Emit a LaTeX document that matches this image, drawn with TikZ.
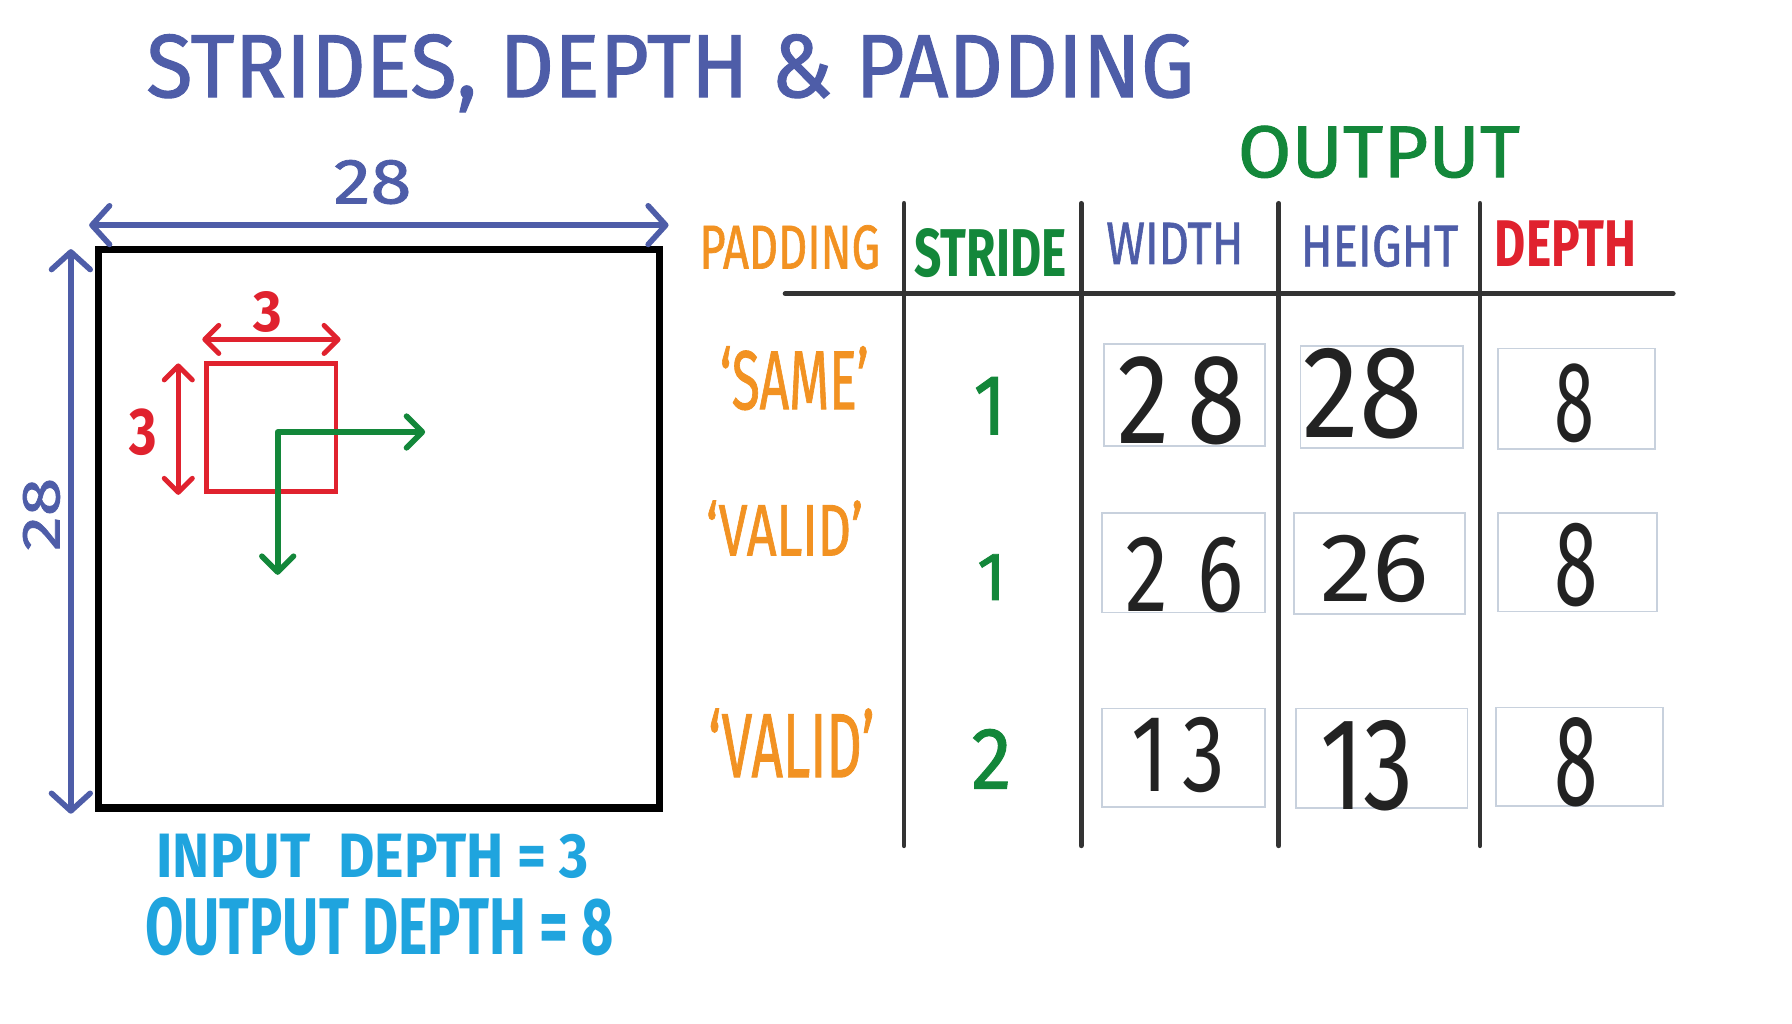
\documentclass[tikz,border=0pt]{standalone}
\usepackage{fontspec}
\setmainfont{Fira Sans}
\newfontfamily\medfont[FakeBold=1.2,Ligatures=TeX]{Fira Sans}
\usepackage{graphicx}
\usetikzlibrary{arrows.meta}
\newlength\myu
\setlength\myu{0.0114286cm}
\newcommand\hw[3]{\resizebox{#1\myu}{#2\myu}{#3}}
\definecolor{tblue}{HTML}{4E5DA8}
\definecolor{mgreen}{HTML}{13873A}
\definecolor{morange}{HTML}{F29222}
\definecolor{mred}{HTML}{E0222E}
\definecolor{mcyan}{HTML}{1FA4DE}
\definecolor{ink}{HTML}{222222}
\definecolor{tline}{HTML}{333333}
\definecolor{boxline}{HTML}{C8D1DD}
\tikzset{
  lbl/.style={inner sep=0pt, outer sep=0pt, anchor=base west, font=\medfont},
  blbl/.style={inner sep=0pt, outer sep=0pt, anchor=base west, font=\bfseries},
  dig/.style={inner sep=0pt, outer sep=0pt, anchor=base west, text=ink},
  dimarrow/.style={draw=tblue, line width=1.6pt, line cap=round,
     {Straight Barb[length=5pt,width=11pt,round]}-{Straight Barb[length=5pt,width=11pt,round]}},
  redarrow/.style={draw=mred, line width=1.4pt, line cap=round,
     {Straight Barb[length=4pt,width=8pt,round]}-{Straight Barb[length=4pt,width=8pt,round]}},
  greenarrow/.style={draw=mgreen, line width=1.6pt, line cap=round, line join=round,
     {Straight Barb[length=4.5pt,width=9pt,round]}-{Straight Barb[length=4.5pt,width=9pt,round]}},
  tabline/.style={draw=tline, line width=1.4pt, line cap=round},
  digbox/.style={draw=boxline, line width=0.5pt, inner sep=0pt, outer sep=0pt},
}
\begin{document}
\begin{tikzpicture}[x=0.0114286cm, y=-0.0114286cm]
\path[use as bounding box, fill=white] (0,0) rectangle (1568,896);

% title
\node[lbl, text=tblue] (title) at (128,85) {\hw{917}{55}{STRIDES, DEPTH \& PADDING}};

% input square and dimensions
\node[draw=black, line width=2pt, inner sep=0pt, minimum width=491\myu, minimum height=489\myu] (input) at (331.5,462.5) {};
\coordinate (hl) at (78,197);
\coordinate (hr) at (585,197);
\draw[dimarrow] (hl) -- (hr);
\node[lbl, text=tblue] (wlab) at (292,178) {\hw{68}{38}{28}};
\coordinate (vt) at (62,218);
\coordinate (vb) at (62,712);
\draw[dimarrow] (vt) -- (vb);
\node[lbl, text=tblue, rotate=90] (hlab) at (52,482) {\hw{64}{32}{28}};

% filter
\node[draw=mred, line width=1.4pt, inner sep=0pt, minimum width=113\myu, minimum height=112\myu] (filter) at (237.5,374) {};
\coordinate (rhl) at (177,297);
\coordinate (rhr) at (298,297);
\draw[redarrow] (rhl) -- (rhr);
\node[blbl, text=mred] (fw) at (222,290) {\hw{25}{35}{3}};
\coordinate (rvt) at (156,318);
\coordinate (rvb) at (156,433);
\draw[redarrow] (rvt) -- (rvb);
\node[blbl, text=mred] (fh) at (113,398) {\hw{24}{40}{3}};

% stride arrows
\coordinate (gr) at (372,378);
\coordinate (gc) at (243,378);
\coordinate (gd) at (243,503);
\draw[greenarrow] (gr) -- (gc) -- (gd);

% depth notes
\node[blbl, text=mcyan] (indepth) at (137,768) {\hw{378}{38}{INPUT\enspace DEPTH = 3}};
\node[blbl, text=mcyan] (outdepth) at (127,835) {\hw{410}{50}{OUTPUT DEPTH = 8}};

% table
\node[lbl, text=mgreen] (output) at (1083,155) {\hw{247}{45}{OUTPUT}};
\node[lbl, text=morange] (hpad) at (612,235) {\hw{158}{38}{PADDING}};
\node[blbl, text=mgreen] (hstr) at (800,242) {\hw{133}{42}{STRIDE}};
\node[lbl, text=tblue] (hwid) at (968,231) {\hw{120}{36}{WIDTH}};
\node[lbl, text=tblue] (hhei) at (1138,233) {\hw{138}{36}{HEIGHT}};
\node[blbl, text=mred] (hdep) at (1308,233) {\hw{124}{40}{DEPTH}};

\coordinate (l1t) at (791,178);  \coordinate (l1b) at (791,740);
\coordinate (l2t) at (946,178);  \coordinate (l2b) at (946,740);
\coordinate (l3t) at (1119,178); \coordinate (l3b) at (1119,740);
\coordinate (l4t) at (1295,178); \coordinate (l4b) at (1295,740);
\coordinate (hhl) at (687,257);  \coordinate (hhr) at (1464,257);
\draw[tabline] (l1t) -- (l1b);
\draw[tabline] (l2t) -- (l2b);
\draw[tabline] (l3t) -- (l3b);
\draw[tabline] (l4t) -- (l4b);
\draw[tabline] (hhl) -- (hhr);

% rows: padding / stride
\node[lbl, text=morange] (p1) at (630,358) {\hw{130}{55}{`SAME'}};
\node[lbl, text=morange] (p2) at (618,486) {\hw{137}{48}{`VALID'}};
\node[lbl, text=morange] (p3) at (620,680) {\hw{145}{60}{`VALID'}};
\node[lbl, text=mgreen] (s1) at (852,380) {\hw{28}{50}{1}};
\node[lbl, text=mgreen] (s2) at (855,525) {\hw{25}{40}{1}};
\node[lbl, text=mgreen] (s3) at (850,690) {\hw{35}{52}{2}};

% digit boxes
\node[digbox, minimum width=141\myu, minimum height=89\myu] (b11) at (1036.5,345.5) {};
\node[digbox, minimum width=142\myu, minimum height=89\myu] (b12) at (1209,347.5) {};
\node[digbox, minimum width=137\myu, minimum height=88\myu] (b13) at (1379.5,349) {};
\node[digbox, minimum width=143\myu, minimum height=87\myu] (b21) at (1035.5,492.5) {};
\node[digbox, minimum width=150\myu, minimum height=88\myu] (b22) at (1207,493) {};
\node[digbox, minimum width=139\myu, minimum height=86\myu] (b23) at (1380.5,492) {};
\node[digbox, minimum width=143\myu, minimum height=86\myu] (b31) at (1035.5,663) {};
\node[digbox, minimum width=150\myu, minimum height=87\myu] (b32) at (1209,663.5) {};
\node[digbox, minimum width=146\myu, minimum height=86\myu] (b33) at (1382,662) {};

% digits
\node[dig] (d11) at (978,388) {\hw{112}{76}{2\,8}};
\node[dig] (d12) at (1140,383) {\hw{105}{78}{28}};
\node[dig] (d13) at (1360,386) {\hw{35}{68}{8}};
\node[dig] (d21) at (985,535) {\hw{103}{65}{2\,\,6}};
\node[dig] (d22) at (1155,526) {\hw{95}{58}{26}};
\node[dig] (d23) at (1360,530) {\hw{38}{72}{8}};
\node[dig] (d31) at (990,693) {\hw{82}{65}{1\,3}};
\node[dig] (d32) at (1155,708) {\hw{82}{78}{13}};
\node[dig] (d33) at (1360,705) {\hw{38}{77}{8}};
\end{tikzpicture}
\end{document}
